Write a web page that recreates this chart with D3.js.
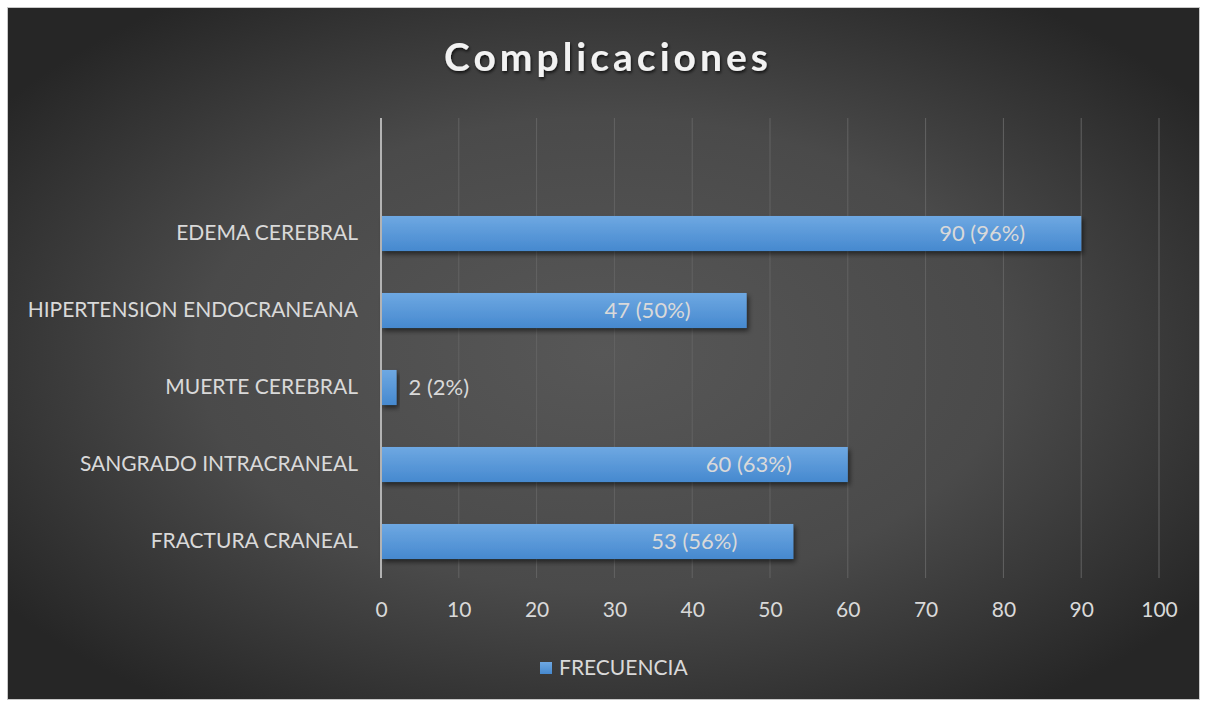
<!DOCTYPE html>
<html>
<head>
<meta charset="utf-8">
<script src="https://cdn.jsdelivr.net/npm/d3@7"></script>
<style>
  body { margin: 0; background: #ffffff; }
  text { font-family: Lato, "Open Sans", sans-serif; }
</style>
</head>
<body>
<div id="chart"></div>
<script>
// data
var categories = ["FRACTURA CRANEAL", "SANGRADO INTRACRANEAL", "MUERTE CEREBRAL", "HIPERTENSION ENDOCRANEANA", "EDEMA CEREBRAL"];
var frecuencia = [53, 60, 2, 47, 90];
var porcentaje = ["56%", "63%", "2%", "50%", "96%"];
var xTicks = [0, 10, 20, 30, 40, 50, 60, 70, 80, 90, 100];
var seriesName = "FRECUENCIA";
var title = "Complicaciones";

var W = 1207, H = 705;
var svg = d3.select("#chart").append("svg")
    .attr("width", W)
    .attr("height", H);

var defs = svg.append("defs");

// background gradient (lighter middle, dark corners)
var bg = defs.append("radialGradient")
    .attr("id", "bgGrad")
    .attr("cx", "50%").attr("cy", "50%").attr("r", "62%");
bg.append("stop").attr("offset", "0%").attr("stop-color", "#575757");
bg.append("stop").attr("offset", "55%").attr("stop-color", "#4a4a4a");
bg.append("stop").attr("offset", "100%").attr("stop-color", "#262626");

var barGrad = defs.append("linearGradient")
    .attr("id", "barGrad")
    .attr("x1", 0).attr("y1", 0).attr("x2", 0).attr("y2", 1);
barGrad.append("stop").attr("offset", "0%").attr("stop-color", "#6ea8e2");
barGrad.append("stop").attr("offset", "100%").attr("stop-color", "#4689cf");

var shadow = defs.append("filter").attr("id", "shadow")
    .attr("x", "-10%").attr("y", "-30%").attr("width", "130%").attr("height", "180%");
shadow.append("feDropShadow")
    .attr("dx", 2).attr("dy", 3).attr("stdDeviation", 2.5)
    .attr("flood-color", "#000").attr("flood-opacity", 0.55);

var titleShadow = defs.append("filter").attr("id", "titleShadow")
    .attr("x", "-10%").attr("y", "-30%").attr("width", "120%").attr("height", "160%");
titleShadow.append("feDropShadow")
    .attr("dx", 1).attr("dy", 2).attr("stdDeviation", 1.5)
    .attr("flood-color", "#000").attr("flood-opacity", 0.7);

// chart area
svg.append("rect")
    .attr("x", 7.5).attr("y", 7.5)
    .attr("width", 1192).attr("height", 692)
    .attr("fill", "url(#bgGrad)")
    .attr("stroke", "#c8c8c8")
    .attr("stroke-width", 1);

// scales
var x = d3.scaleLinear().domain([0, 100]).range([381, 1159]);
// Excel leaves an empty slot on top of the category axis
var yDomain = categories.slice().reverse();
yDomain.unshift(" ");
var y = d3.scaleBand().domain(yDomain).range([118, 580]).paddingInner(0.545).paddingOuter(0.2725);

// gridlines
svg.append("g")
    .selectAll("line")
    .data(xTicks.slice(1))
    .enter().append("line")
    .attr("x1", function(d) { return x(d); })
    .attr("x2", function(d) { return x(d); })
    .attr("y1", 118)
    .attr("y2", 578)
    .attr("stroke", "#636363")
    .attr("stroke-width", 1);

// x axis labels
var xAxis = svg.append("g")
    .attr("transform", "translate(0,578)")
    .call(d3.axisBottom(x).tickValues(xTicks).tickSize(0).tickPadding(24));
xAxis.select(".domain").remove();
xAxis.selectAll("text")
    .attr("fill", "#d9d9d9")
    .style("font-size", "21px")
    .style("font-family", "Lato, 'Open Sans', sans-serif");

// bars
var data = categories.map(function(c, i) {
    return {cat: c, v: frecuencia[i], p: porcentaje[i]};
});

svg.append("g")
    .selectAll("rect")
    .data(data)
    .enter().append("rect")
    .attr("x", x(0))
    .attr("y", function(d) { return y(d.cat); })
    .attr("width", function(d) { return x(d.v) - x(0); })
    .attr("height", y.bandwidth())
    .attr("fill", "url(#barGrad)")
    .attr("filter", "url(#shadow)");

// y axis
var yAxis = svg.append("g")
    .attr("transform", "translate(381,0)")
    .call(d3.axisLeft(y).tickSize(0).tickPadding(23));
yAxis.select(".domain").remove();
yAxis.selectAll("text")
    .attr("fill", "#d9d9d9")
    .style("font-size", "21px")
    .style("font-family", "Lato, 'Open Sans', sans-serif");

svg.append("line")
    .attr("x1", x(0)).attr("x2", x(0))
    .attr("y1", 118).attr("y2", 578)
    .attr("stroke", "#b3b3b3")
    .attr("stroke-width", 2);

// data labels
svg.append("g")
    .selectAll("text")
    .data(data)
    .enter().append("text")
    .attr("x", function(d) { return d.v < 10 ? x(d.v) + 12 : x(d.v) - 56; })
    .attr("y", function(d) { return y(d.cat) + y.bandwidth() / 2; })
    .attr("dy", "0.35em")
    .attr("text-anchor", function(d) { return d.v < 10 ? "start" : "end"; })
    .attr("fill", "#d9d9d9")
    .style("font-size", "22px")
    .text(function(d) { return d.v + " (" + d.p + ")"; });

// title
svg.append("text")
    .attr("x", 608)
    .attr("y", 71)
    .attr("text-anchor", "middle")
    .attr("fill", "#f2f2f2")
    .attr("filter", "url(#titleShadow)")
    .style("font-size", "39px")
    .style("font-weight", "bold")
    .style("letter-spacing", "4px")
    .text(title);

// legend
var legend = svg.append("g").attr("transform", "translate(540,662)");
legend.append("rect")
    .attr("width", 12).attr("height", 12)
    .attr("fill", "url(#barGrad)");
legend.append("text")
    .attr("x", 19).attr("y", 6)
    .attr("dy", "0.35em")
    .attr("fill", "#d9d9d9")
    .style("font-size", "21px")
    .text(seriesName);
</script>
</body>
</html>
